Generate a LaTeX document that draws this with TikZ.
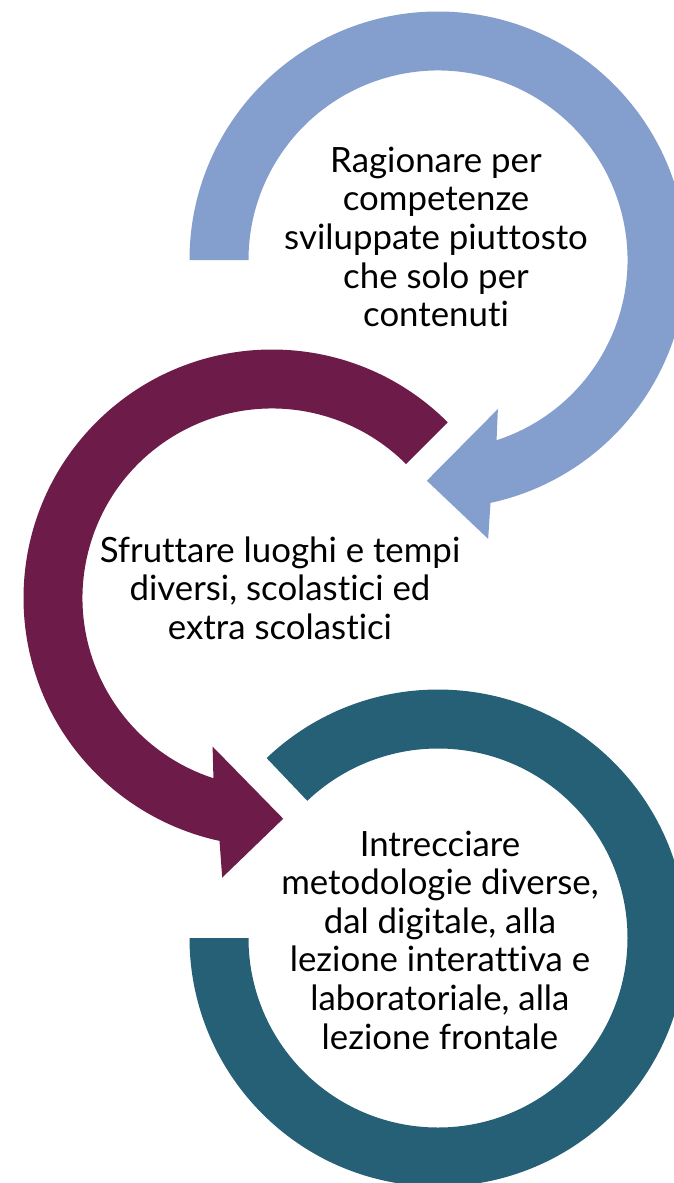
\documentclass[tikz,border=0pt]{standalone}
\usepackage{fontspec}
\setmainfont[Ligatures={NoCommon,NoRare}]{Lato}
\usetikzlibrary{calc}
\definecolor{cblue}{HTML}{849FCD}
\definecolor{cmaroon}{HTML}{6D1C4A}
\definecolor{cteal}{HTML}{256076}
\begin{document}
\begin{tikzpicture}[x=1pt,y=1pt,
  lbl/.style={align=center, font=\fontsize{34.8}{38.6}\selectfont, text=black, inner sep=0pt}]
\useasboundingbox (0,0) rectangle (674,-1183);
\clip (0,0) rectangle (674,-1183);
\coordinate (B) at (438,-260);
\coordinate (M) at (272,-598);
\coordinate (T) at (438,-938);
% blue circular arrow
\fill[cblue] ($(B)+(180:248.5)$) arc[start angle=180,end angle=-77.8,radius=248.5]
  -- ($(B)+(-79.8:283.4)$) -- ($(B)+(-92.9:221)$) -- ($(B)+(-68.1:160.6)$)
  -- ($(B)+(-72:189.5)$) arc[start angle=-72,end angle=180,radius=189.5] -- cycle;
% maroon circular arrow
\fill[cmaroon] ($(M)+(45:248.5)$) arc[start angle=45,end angle=257.8,radius=248.5]
  -- ($(M)+(259.9:284)$) -- ($(M)+(272.9:221)$) -- ($(M)+(248.2:160)$)
  -- ($(M)+(252:189.5)$) arc[start angle=252,end angle=45,radius=189.5] -- cycle;
% teal arc
\fill[cteal] ($(T)+(133.6:248.5)$) arc[start angle=133.6,end angle=-180,radius=248.5]
  -- ($(T)+(180:189.5)$) arc[start angle=-180,end angle=133.6,radius=189.5] -- cycle;
% texts
\node[lbl] (t1) at (436,-237) {Ragionare per\\competenze\\sviluppate piuttosto\\che solo per\\contenuti};
\node[lbl] (t2) at (280,-588) {Sfruttare luoghi e tempi\\diversi, scolastici ed\\extra scolastici};
\node[lbl] (t3) at (440,-940) {Intrecciare\\metodologie diverse,\\dal digitale, alla\\lezione interattiva e\\laboratoriale, alla\\lezione frontale};
\end{tikzpicture}
\end{document}
